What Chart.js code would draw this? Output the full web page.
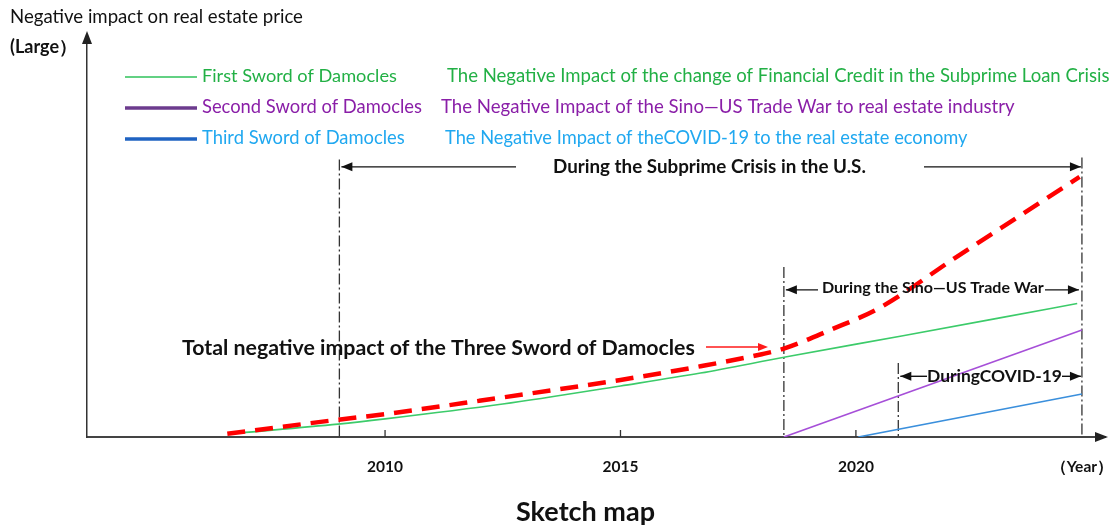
<!DOCTYPE html>
<html><head><meta charset="utf-8">
<script src="https://cdn.jsdelivr.net/npm/chart.js@4"></script>
<style>html,body{margin:0;padding:0;background:#fff}#wrap{width:1116px;height:526px;position:relative}</style>
</head><body><div id="wrap"><canvas id="c"></canvas></div>
<script>
// ---- data (years on x, relative impact on y) ----
const greenYears  = [2006.9, 2009.0, 2010.0, 2012.5, 2015.0, 2016.7, 2018.5, 2021.0, 2023.0, 2024.7];
const greenValues = [1.0, 3.2, 4.5, 8.2, 12.7, 15.9, 19.9, 25.2, 29.5, 33.2];
const redYears    = [2006.65, 2009.0, 2010.0, 2012.0, 2015.0, 2016.7, 2018.0, 2018.5, 2019.45, 2020.5, 2022.1, 2024.75];
const redValues   = [0.8, 4.3, 5.7, 9.0, 14.2, 17.6, 20.6, 22.1, 26.6, 32.1, 44.5, 64.7];
const purpleYears = [2018.47, 2024.8];
const purpleValues= [0, 26.6];
const blueYears   = [2020.05, 2024.8];
const blueValues  = [0, 10.7];
const tickYears   = [2010, 2015, 2020];
const tickLabels  = ['2010', '2015', '2020'];
const yearAxisLabel = '（Year）';
const subprimeStart = 2009.03, tradeWarStart = 2018.47, covidStart = 2020.9, periodEnd = 2024.8;

const pts = (xs, ys) => xs.map((x, i) => ({x, y: ys[i]}));
const FONT = 'Lato, "Liberation Sans", sans-serif';

function fitText(ctx, text, x, y, size, weight, color, target) {
  ctx.font = weight + ' ' + size + 'px ' + FONT;
  if (target) {
    const w = ctx.measureText(text).width;
    size = size * target / w;
    ctx.font = weight + ' ' + size.toFixed(2) + 'px ' + FONT;
  }
  ctx.fillStyle = color; ctx.textBaseline = 'middle'; ctx.textAlign = 'left';
  ctx.fillText(text, x, y);
}
function head(ctx, x, y, dir, len, half) {
  ctx.beginPath(); ctx.moveTo(x, y); ctx.lineTo(x - dir * len, y - half); ctx.lineTo(x - dir * len, y + half); ctx.closePath(); ctx.fill();
}
function hArrow(ctx, x1, x2, y, dirHead) {
  ctx.beginPath(); ctx.moveTo(x1, y); ctx.lineTo(x2, y); ctx.stroke();
  if (dirHead < 0) head(ctx, x1, y, -1, 11, 4.5); else head(ctx, x2, y, 1, 11, 4.5);
}
function vDash(ctx, x, yTop, yBot) {
  ctx.save(); ctx.setLineDash([11, 3, 2, 3]); ctx.lineWidth = 1.3; ctx.strokeStyle = '#333';
  ctx.beginPath(); ctx.moveTo(x, yTop); ctx.lineTo(x, yBot); ctx.stroke(); ctx.restore();
}

const decor = {
  id: 'decor',
  beforeDatasetsDraw(chart) {
    const {ctx, chartArea: a, scales: {x: xs, y: ys}} = chart;
    ctx.save();
    vDash(ctx, xs.getPixelForValue(subprimeStart), ys.getPixelForValue(69), a.bottom);
    vDash(ctx, xs.getPixelForValue(periodEnd), ys.getPixelForValue(69.5), a.bottom);
    vDash(ctx, xs.getPixelForValue(tradeWarStart), ys.getPixelForValue(42.3), a.bottom);
    vDash(ctx, xs.getPixelForValue(covidStart), ys.getPixelForValue(18.4), a.bottom);
    ctx.restore();
  },
  afterDraw(chart) {
    const {ctx, chartArea: a, scales: {x: xs, y: ys}} = chart;
    ctx.save();
    // axis arrows
    ctx.fillStyle = '#222';
    ctx.beginPath(); ctx.moveTo(a.left, a.top - 4); ctx.lineTo(a.left - 5, a.top + 9); ctx.lineTo(a.left + 5, a.top + 9); ctx.closePath(); ctx.fill();
    ctx.beginPath(); ctx.moveTo(a.right + 3, a.bottom); ctx.lineTo(a.right - 10, a.bottom - 5); ctx.lineTo(a.right - 10, a.bottom + 5); ctx.closePath(); ctx.fill();
    // inner tick marks
    ctx.strokeStyle = '#333'; ctx.lineWidth = 1.3;
    tickYears.forEach(t => { const px = xs.getPixelForValue(t); ctx.beginPath(); ctx.moveTo(px, a.bottom); ctx.lineTo(px, a.bottom - 7); ctx.stroke(); });

    // header texts
    fitText(ctx, 'Negative impact on real estate price', 10, 17, 15, 'normal', '#111', 293);
    fitText(ctx, '(Large）', 10, 47, 15, 'bold', '#111', 67);
    // legend
    const lg = [
      ['First Sword of Damocles', '#2fc25a', '#22b045', 1.5, 76, 195, 'The Negative Impact of the change of Financial Credit in the Subprime Loan Crisis', 447, 663],
      ['Second Sword of Damocles', '#6c3b8e', '#8a1fa8', 3.5, 107, 220, 'The Negative Impact of the Sino—US Trade War to real estate industry', 441, 574],
      ['Third Sword of Damocles', '#1f63c2', '#20a8f0', 3.5, 138, 203, 'The Negative Impact of theCOVID-19 to the real estate economy', 445, 523]
    ];
    lg.forEach(([name, lineC, textC, lw, y, w, desc, dx, dw]) => {
      ctx.strokeStyle = lineC; ctx.lineWidth = lw;
      ctx.beginPath(); ctx.moveTo(125, y + 1); ctx.lineTo(197, y + 1); ctx.stroke();
      fitText(ctx, name, 202, y, 16, 'normal', textC, w);
      fitText(ctx, desc, dx, y, 16, 'normal', textC, dw);
    });

    // period arrows
    ctx.strokeStyle = '#111'; ctx.fillStyle = '#111'; ctx.lineWidth = 1.4;
    const xSub = xs.getPixelForValue(subprimeStart), xEnd = xs.getPixelForValue(periodEnd);
    const xTw = xs.getPixelForValue(tradeWarStart), xCv = xs.getPixelForValue(covidStart);
    let y = ys.getPixelForValue(67.2);
    hArrow(ctx, xSub + 2, 516, y, -1); hArrow(ctx, 924, xEnd - 1, y, 1);
    fitText(ctx, 'During the Subprime Crisis in the U.S.', 553, y, 15, 'bold', '#111', 313);
    y = ys.getPixelForValue(36.6);
    hArrow(ctx, xTw + 2, 818, y, -1); hArrow(ctx, 1045, xEnd - 3, y, 1);
    fitText(ctx, 'During the Sino—US Trade War', 822, y - 2, 13, 'bold', '#111', 222);
    y = ys.getPixelForValue(15.1);
    hArrow(ctx, xCv + 2, 927, y, -1); hArrow(ctx, 1062, xEnd - 1, y, 1);
    fitText(ctx, 'DuringCOVID-19', 927, y, 15, 'bold', '#111', 135);

    // total annotation
    fitText(ctx, 'Total negative impact of the Three Sword of Damocles', 182, 348, 18, 'bold', '#111', 513);
    ctx.strokeStyle = '#ff1a1a'; ctx.fillStyle = '#ff1a1a'; ctx.lineWidth = 1.3;
    ctx.beginPath(); ctx.moveTo(706, 347); ctx.lineTo(760, 347); ctx.stroke();
    head(ctx, 768, 347, 1, 10, 4);

    // title
    fitText(ctx, 'Sketch map', 516, 512, 24, 'bold', '#111', 139);
    ctx.restore();
  }
};

new Chart(document.getElementById('c'), {
  type: 'line',
  data: {
    datasets: [
      {label: 'Total', data: pts(redYears, redValues), borderColor: '#ff0000', borderWidth: 4.5, borderDash: [18, 10], cubicInterpolationMode: 'monotone', pointRadius: 0, borderCapStyle: 'butt'},
      {label: 'First Sword of Damocles', data: pts(greenYears, greenValues), borderColor: '#3ccb6a', borderWidth: 1.6, cubicInterpolationMode: 'monotone', pointRadius: 0},
      {label: 'Second Sword of Damocles', data: pts(purpleYears, purpleValues), borderColor: '#a64fd8', borderWidth: 1.6, pointRadius: 0},
      {label: 'Third Sword of Damocles', data: pts(blueYears, blueValues), borderColor: '#3a8fdc', borderWidth: 1.6, pointRadius: 0}
    ]
  },
  options: {
    responsive: true, maintainAspectRatio: false, animation: false,
    layout: {padding: {left: 87, right: 11, top: 35, bottom: 0}, autoPadding: false},
    plugins: {legend: {display: false}, tooltip: {enabled: false}},
    scales: {
      x: {
        type: 'linear', min: 2003.67, max: 2025.29,
        afterFit: s => { s.height = 89; s.paddingLeft = 0; s.paddingRight = 0; },
        afterBuildTicks: s => { s.ticks = tickYears.concat([periodEnd]).map(v => ({value: v})); },
        ticks: {autoSkip: false, maxRotation: 0, padding: 21, color: '#111', font: {family: FONT, weight: 'bold', size: 15.5},
          callback: (v) => { const i = tickYears.indexOf(v); return i >= 0 ? tickLabels[i] : yearAxisLabel; }},
        grid: {display: false, drawTicks: false},
        border: {display: true, color: '#444', width: 2}
      },
      y: {
        min: 0, max: 100,
        afterFit: s => { s.width = 0; },
        ticks: {display: false},
        grid: {display: false, drawTicks: false},
        border: {display: true, color: '#333', width: 1.5}
      }
    }
  },
  plugins: [decor]
});
</script></body></html>
